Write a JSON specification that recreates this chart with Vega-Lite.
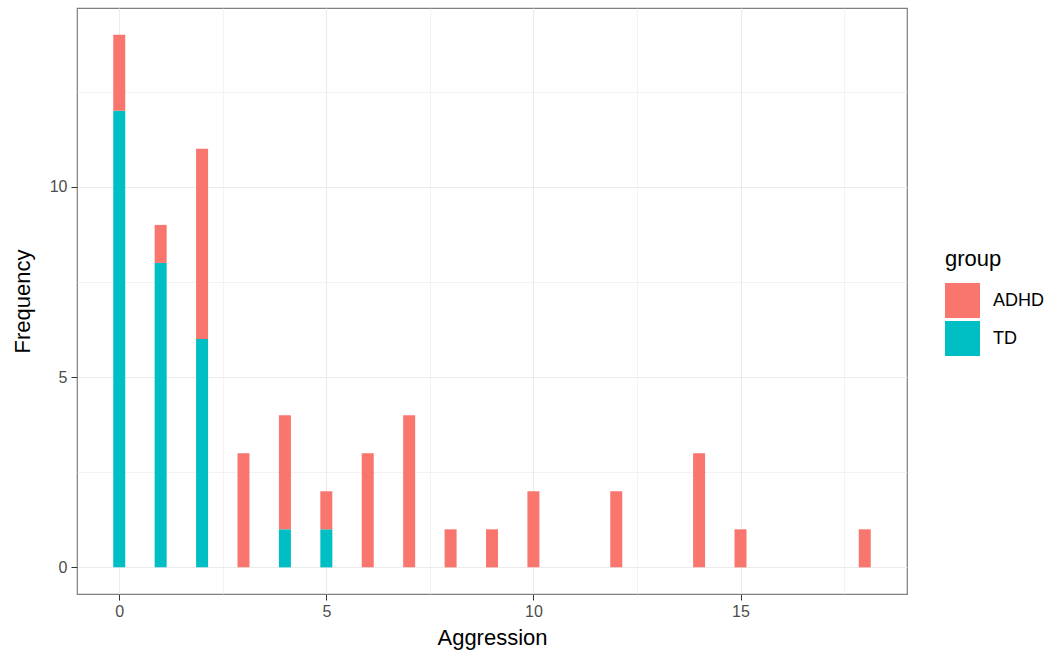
{
  "$schema": "https://vega.github.io/schema/vega-lite/v6.json",
  "width": 830,
  "height": 586,
  "autosize": {"type": "none"},
  "padding": {"left": 77, "top": 8, "right": 151, "bottom": 65},
  "background": "white",
  "config": {
    "font": "Liberation Sans",
    "view": {"stroke": "#7f7f7f", "strokeWidth": 1.2},
    "axis": {"domain": false}
  },
  "data": {
    "values": [
      {"Aggression": 0, "group": "TD", "count": 12},
      {"Aggression": 0, "group": "ADHD", "count": 2},
      {"Aggression": 1, "group": "TD", "count": 8},
      {"Aggression": 1, "group": "ADHD", "count": 1},
      {"Aggression": 2, "group": "TD", "count": 6},
      {"Aggression": 2, "group": "ADHD", "count": 5},
      {"Aggression": 3, "group": "ADHD", "count": 3},
      {"Aggression": 4, "group": "TD", "count": 1},
      {"Aggression": 4, "group": "ADHD", "count": 3},
      {"Aggression": 5, "group": "TD", "count": 1},
      {"Aggression": 5, "group": "ADHD", "count": 1},
      {"Aggression": 6, "group": "ADHD", "count": 3},
      {"Aggression": 7, "group": "ADHD", "count": 4},
      {"Aggression": 8, "group": "ADHD", "count": 1},
      {"Aggression": 9, "group": "ADHD", "count": 1},
      {"Aggression": 10, "group": "ADHD", "count": 2},
      {"Aggression": 12, "group": "ADHD", "count": 2},
      {"Aggression": 14, "group": "ADHD", "count": 3},
      {"Aggression": 15, "group": "ADHD", "count": 1},
      {"Aggression": 18, "group": "ADHD", "count": 1}
    ]
  },
  "mark": {"type": "bar", "size": 12, "clip": true},
  "encoding": {
    "x": {
      "field": "Aggression",
      "type": "quantitative",
      "scale": {"domain": [-1.02, 19.02], "nice": false, "zero": false, "padding": 0},
      "axis": {
        "values": [0, 2.5, 5, 7.5, 10, 12.5, 15, 17.5],
        "labelExpr": "datum.value % 5 == 0 ? datum.label : ''",
        "grid": true,
        "gridColor": "#ebebeb",
        "gridWidth": {"expr": "datum.value % 5 == 0 ? 1.1 : 0.6"},
        "tickOpacity": {"expr": "datum.value % 5 == 0 ? 1 : 0"},
        "tickColor": "#333333",
        "tickSize": 6,
        "tickWidth": 1,
        "labelColor": "#4d4d4d",
        "labelFontSize": 16,
        "labelPadding": 3,
        "labelFlush": false,
        "title": "Aggression",
        "titleFontSize": 22,
        "titleFontWeight": "normal",
        "titleColor": "black",
        "titlePadding": 8
      }
    },
    "y": {
      "field": "count",
      "type": "quantitative",
      "stack": "zero",
      "scale": {"domain": [-0.7, 14.7], "nice": false, "zero": false, "padding": 0},
      "axis": {
        "values": [0, 2.5, 5, 7.5, 10, 12.5],
        "labelExpr": "datum.value % 5 == 0 ? datum.label : ''",
        "grid": true,
        "gridColor": "#ebebeb",
        "gridWidth": {"expr": "datum.value % 5 == 0 ? 1.1 : 0.6"},
        "tickOpacity": {"expr": "datum.value % 5 == 0 ? 1 : 0"},
        "tickColor": "#333333",
        "tickSize": 6,
        "tickWidth": 1,
        "labelColor": "#4d4d4d",
        "labelFontSize": 16,
        "labelPadding": 4,
        "labelFlush": false,
        "title": "Frequency",
        "titleFontSize": 22,
        "titleFontWeight": "normal",
        "titleColor": "black",
        "titlePadding": 15
      }
    },
    "color": {
      "field": "group",
      "type": "nominal",
      "scale": {"domain": ["ADHD", "TD"], "range": ["#F8766D", "#00BFC4"]},
      "legend": {
        "orient": "none",
        "legendX": 868,
        "legendY": 241,
        "padding": 0,
        "title": "group",
        "titleFontSize": 22,
        "titleFontWeight": "normal",
        "titleColor": "black",
        "titlePadding": 12,
        "symbolType": "square",
        "symbolSize": 1225,
        "symbolStrokeWidth": 0,
        "symbolOpacity": 1,
        "labelFontSize": 18,
        "labelColor": "black",
        "labelOffset": 13,
        "rowPadding": 3
      }
    },
    "order": {"field": "group", "sort": "descending"}
  }
}
